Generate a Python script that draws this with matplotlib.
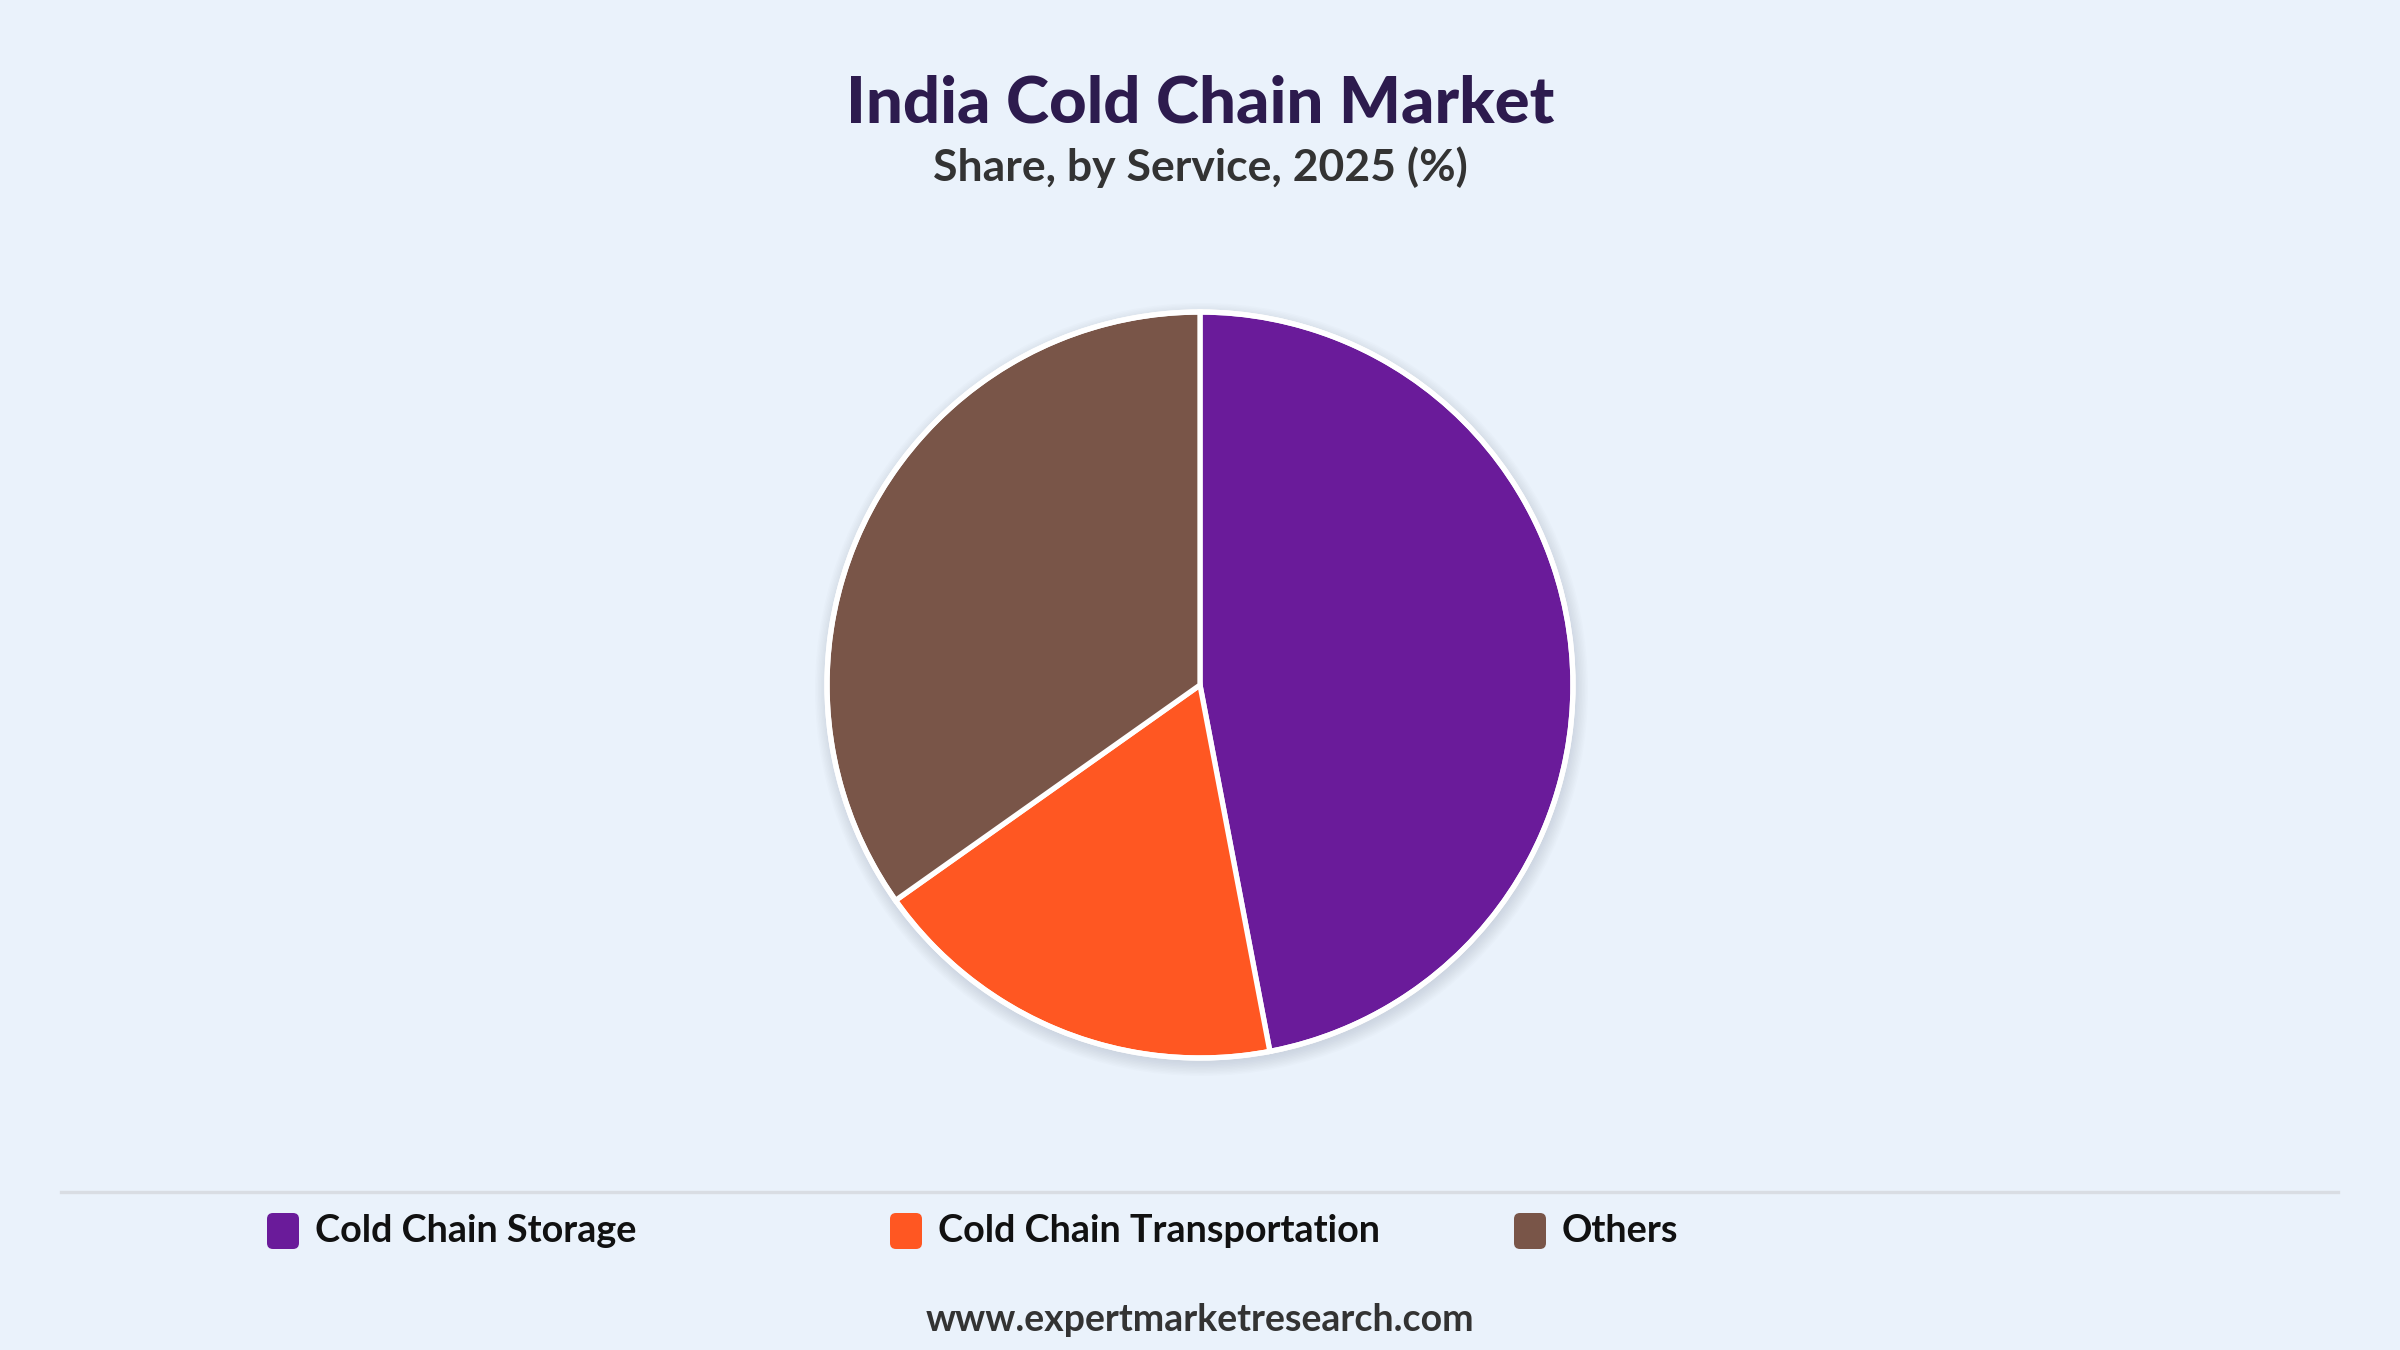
import matplotlib.pyplot as plt
from matplotlib.patches import FancyBboxPatch, Circle

# ── Data ──────────────────────────────────────────────────────────────────────
services = ["Cold Chain Storage", "Cold Chain Transportation", "Others"]
shares   = [47.0, 18.2, 34.8]
colors   = ["#6A1B9A", "#FF5722", "#795548"]

title    = "India Cold Chain Market"
subtitle = "Share, by Service, 2025 (%)"
footer   = "www.expertmarketresearch.com"

BG = "#EAF2FB"
plt.rcParams["font.family"] = ["Lato", "DejaVu Sans"]

W, H, DPI = 2400, 1350, 200
fig = plt.figure(figsize=(W / DPI, H / DPI), dpi=DPI, facecolor=BG)

# ── Pie ───────────────────────────────────────────────────────────────────────
cx, cy, r = 1200, 685, 373
s = 1.08                                   # margin so the shadow is not clipped
ax = fig.add_axes([(cx - r * s) / W, (H - cy - r * s) / H, 2 * r * s / W, 2 * r * s / H])
ax.set_facecolor("none")
ax.axis("off")

# soft shadow
for i in range(10):
    ax.add_patch(Circle((0.004, -0.012), 1.0 + 0.004 * i, color="#9aa4b4",
                        alpha=0.035, lw=0, zorder=0))

ax.pie(shares, colors=colors, startangle=90, counterclock=False, radius=1.0,
       wedgeprops=dict(edgecolor="white", linewidth=1.9, zorder=2))
ax.add_patch(Circle((0, 0), 1.0, fill=False, edgecolor="white", lw=1.9, zorder=3))
ax.set_xlim(-s, s)
ax.set_ylim(-s, s)
ax.set_aspect("equal")

# ── Overlay for titles / legend ───────────────────────────────────────────────
ov = fig.add_axes([0, 0, 1, 1])
ov.set_xlim(0, W)
ov.set_ylim(H, 0)
ov.axis("off")
ov.set_facecolor("none")

ov.text(W / 2, 104, title, ha="center", va="center", fontsize=23.5,
        fontweight="black", color="#2D1B4E")
ov.text(W / 2, 167, subtitle, ha="center", va="center", fontsize=16,
        fontweight="bold", color="#333333")

ov.plot([61, 2338], [1192, 1192], color="#D9DDE3", lw=1.2)

leg_x = [265, 888, 1512]
for x, lab, c in zip(leg_x, services, colors):
    ov.add_patch(FancyBboxPatch((x + 2, 1213), 32, 36,
                                boxstyle="round,pad=0,rounding_size=6",
                                facecolor=c, edgecolor="none"))
    ov.text(x + 50, 1231, lab, ha="left", va="center", fontsize=13.6,
            fontweight="bold", color="#111111")

ov.text(W / 2, 1320, footer, ha="center", va="center", fontsize=13.5,
        fontweight="bold", color="#333333")

fig.savefig("out.png", dpi=DPI, facecolor=BG)
